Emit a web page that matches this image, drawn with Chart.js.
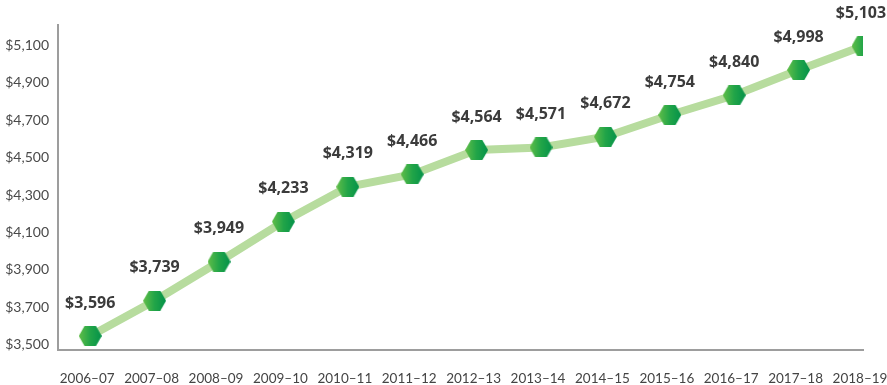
<!DOCTYPE html>
<html>
<head>
<meta charset="utf-8">
<script src="https://cdn.jsdelivr.net/npm/chart.js@4"></script>
<style>
  html, body { margin: 0; padding: 0; background: #fff; }
  #wrap { width: 887px; height: 385px; position: relative; }
</style>
</head>
<body>
<div id="wrap"><canvas id="grafica"></canvas></div>
<script>
// years on the x axis
const years = ['2006–07','2007–08','2008–09','2009–10','2010–11','2011–12','2012–13',
  '2013–14','2014–15','2015–16','2016–17','2017–18','2018–19'];
// where the points sit in the picture
const plotted = [3548, 3736, 3944, 4158, 4344, 4410, 4540, 4554, 4611, 4727, 4832, 4967, 5095];
// printed labels above each point
const printed = [3596, 3739, 3949, 4233, 4319, 4466, 4564, 4571, 4672, 4754, 4840, 4998, 5103];
// y axis tick values
const yTicks = [3500, 3700, 3900, 4100, 4300, 4500, 4700, 4900, 5100];

function money(v) {
  return '$' + v.toLocaleString('en-US');
}

// hexagon marker with a green gradient
function hexMarker() {
  const w = 23, h = 20;
  const c = document.createElement('canvas');
  c.width = w; c.height = h;
  const g = c.getContext('2d');
  const grad = g.createLinearGradient(0, 0, w, 0);
  grad.addColorStop(0, '#62be48');
  grad.addColorStop(0.5, '#22a548');
  grad.addColorStop(1, '#04924a');
  g.fillStyle = grad;
  g.beginPath();
  g.moveTo(0, h / 2);
  g.lineTo(w / 4, 0);
  g.lineTo(3 * w / 4, 0);
  g.lineTo(w, h / 2);
  g.lineTo(3 * w / 4, h);
  g.lineTo(w / 4, h);
  g.closePath();
  g.fill();
  return c;
}

const valueLabels = {
  id: 'valueLabels',
  afterDatasetsDraw(chart) {
    const ctx = chart.ctx;
    const meta = chart.getDatasetMeta(0);
    ctx.save();
    ctx.font = 'bold 16px "Open Sans", Lato, sans-serif';
    ctx.fillStyle = '#3b3b3b';
    ctx.textAlign = 'center';
    ctx.textBaseline = 'middle';
    meta.data.forEach((pt, i) => {
      // last label is nudged in so it stays on the canvas
      const dx = i === meta.data.length - 1 ? -2 : 0;
      ctx.fillText(money(printed[i]), pt.x + dx, pt.y - 33);
    });
    ctx.restore();
  }
};

const points = plotted.map((v, i) => ({ x: i, y: v }));

const ctx = document.getElementById('grafica').getContext('2d');
const myChart = new Chart(ctx, {
  type: 'line',
  data: {
    datasets: [{
      data: points,
      borderColor: '#b7dc9e',
      borderWidth: 8,
      pointStyle: hexMarker(),
      pointHoverRadius: 0,
      tension: 0
    }]
  },
  options: {
    responsive: true,
    maintainAspectRatio: false,
    animation: false,
    events: [],
    layout: { padding: { top: 25, right: 24, left: 0, bottom: 0 } },
    plugins: { legend: { display: false }, tooltip: { enabled: false } },
    scales: {
      x: {
        type: 'linear',
        min: -0.5,
        max: 12,
        grid: { display: false },
        border: { display: true, color: '#9d9d9d', width: 2 },
        afterBuildTicks(scale) {
          scale.ticks = years.map((_, i) => ({ value: i }));
        },
        afterFit(scale) {
          scale.height = 35;
          scale.paddingLeft = 0;
          scale.paddingRight = 0;
        },
        ticks: {
          autoSkip: false,
          maxRotation: 0,
          padding: 13,
          labelOffset: -3,
          color: '#444',
          font: { family: 'Lato, sans-serif', size: 13.5 },
          callback: v => years[v]
        }
      },
      y: {
        min: 3473,
        max: 5207,
        grid: { display: false },
        border: { display: true, color: '#9d9d9d', width: 2 },
        afterBuildTicks(scale) {
          scale.ticks = yTicks.map(v => ({ value: v }));
        },
        afterFit(scale) {
          scale.width = 58;
        },
        ticks: {
          padding: 1,
          color: '#4a4a4a',
          font: { family: 'Lato, sans-serif', size: 14 },
          callback: v => money(v)
        }
      }
    }
  },
  plugins: [valueLabels]
});
</script>
</body>
</html>
